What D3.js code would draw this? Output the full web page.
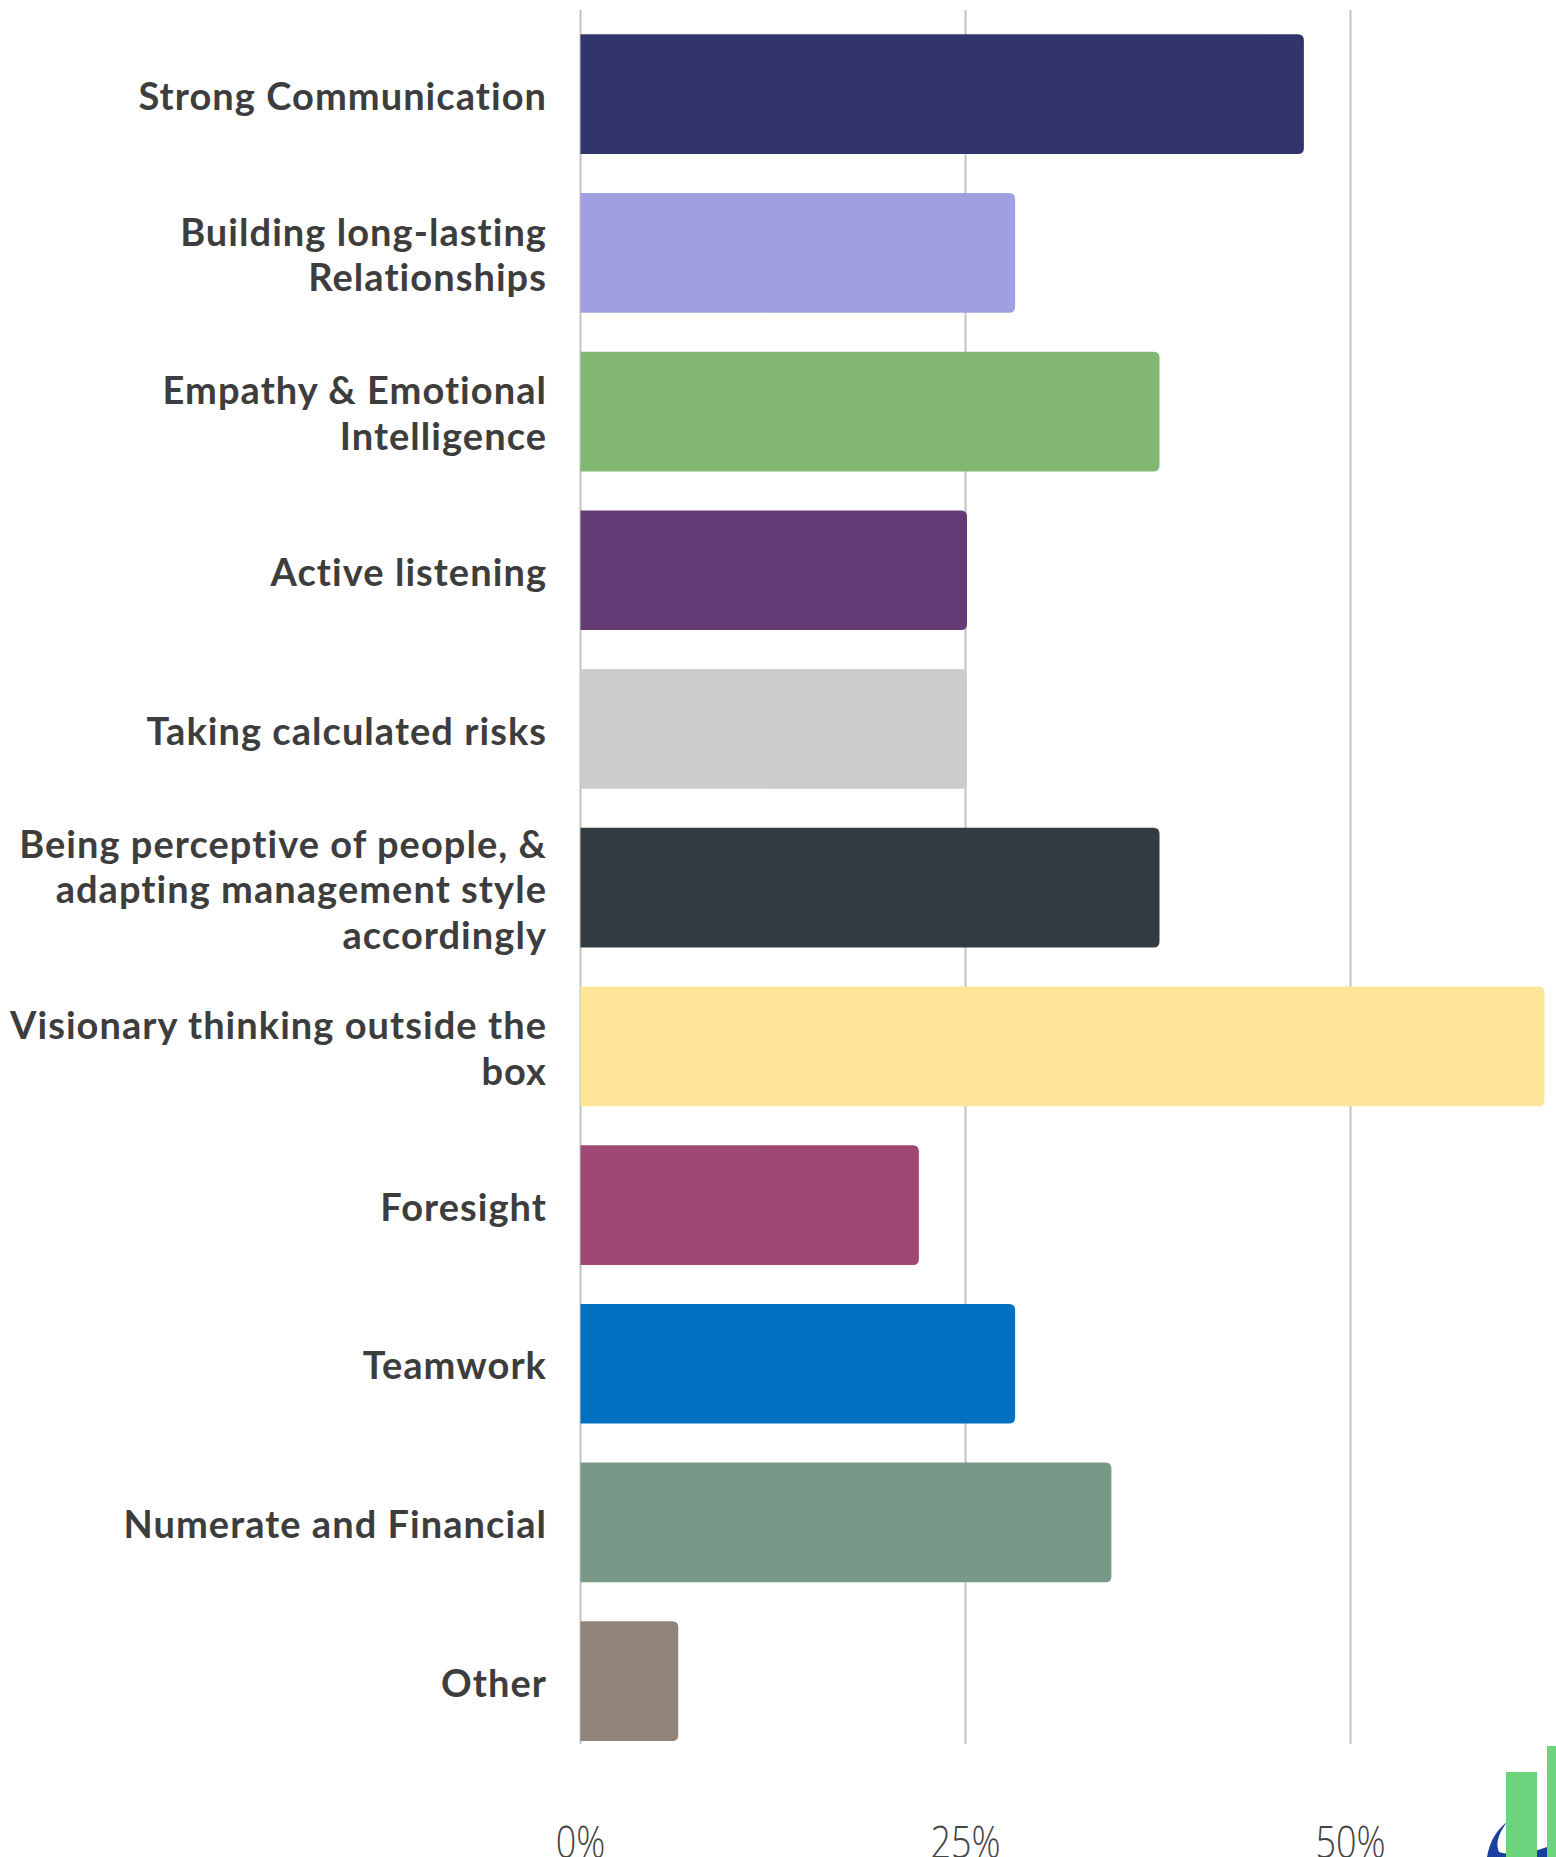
<!DOCTYPE html>
<html>
<head>
<meta charset="utf-8">
<script src="https://cdn.jsdelivr.net/npm/d3@7"></script>
<style>
  html, body { margin: 0; padding: 0; background: #fff; }
  svg { display: block; }
</style>
</head>
<body>
<svg id="chart" width="1556" height="1857"></svg>
<script>
// ---- data ----
const categories = [
  "Strong Communication",
  "Building long-lasting\nRelationships",
  "Empathy & Emotional\nIntelligence",
  "Active listening",
  "Taking calculated risks",
  "Being perceptive of people, &\nadapting management style\naccordingly",
  "Visionary thinking outside the\nbox",
  "Foresight",
  "Teamwork",
  "Numerate and Financial",
  "Other"
];
const values = [46.875, 28.125, 37.5, 25, 25, 37.5, 62.5, 21.875, 28.125, 34.375, 6.25];
const colors = ["#31356b", "#a0a0e0", "#82b771", "#653b75", "#cccccc", "#323b40",
                "#fee599", "#9e4873", "#0071c1", "#789987", "#918377"];
const ticks = [0, 25, 50];
const tickLabels = ["0%", "25%", "50%"];

// ---- layout ----
const svg = d3.select("#chart");
const x = d3.scaleLinear().domain([0, 25]).range([580.5, 965.5]);
const y = d3.scaleBand().domain(d3.range(categories.length))
  .range([14.8, 14.8 + 158.7 * categories.length])
  .paddingInner(0.246).paddingOuter(0.123);

// gridlines
const gridTop = 10, gridBottom = 1744;
svg.append("g").selectAll("line").data(ticks).join("line")
  .attr("x1", d => x(d)).attr("x2", d => x(d))
  .attr("y1", gridTop).attr("y2", gridBottom)
  .attr("stroke", "#c3c3c3").attr("stroke-width", 2);

// bars: square left, rounded right
const r = 6;
function barPath(x0, x1, y0, h) {
  const rr = Math.min(r, (x1 - x0) / 2);
  return `M${x0},${y0}H${x1 - rr}Q${x1},${y0} ${x1},${y0 + rr}V${y0 + h - rr}Q${x1},${y0 + h} ${x1 - rr},${y0 + h}H${x0}Z`;
}
svg.append("g").selectAll("path").data(values).join("path")
  .attr("d", (d, i) => barPath(x(0), x(d) + 1.5, y(i), y.bandwidth()))
  .attr("fill", (d, i) => colors[i]);

// category labels
const lh = 45.6;
const lbl = svg.append("g")
  .attr("font-family", "Lato, 'Noto Sans', sans-serif")
  .attr("font-weight", 700)
  .attr("font-size", 38)
  .attr("letter-spacing", 1.05)
  .attr("fill", "#3d3d3d")
  .attr("text-anchor", "end");
categories.forEach((c, i) => {
  const lines = c.split("\n");
  const cy = y(i) + y.bandwidth() / 2 + 2;
  const t = lbl.append("text").attr("y", cy - (lines.length - 1) * lh / 2);
  lines.forEach((ln, k) => {
    t.append("tspan").attr("x", 547).attr("dy", k === 0 ? "0.36em" : lh).text(ln);
  });
});

// axis tick labels (light, condensed)
const ax = svg.append("g")
  .attr("font-family", "'Open Sans', sans-serif")
  .attr("font-weight", 300)
  .attr("font-size", 45)
  .attr("fill", "#444");
ticks.forEach((t, i) => {
  ax.append("text")
    .attr("transform", `translate(${x(t)},1858) scale(0.8,1)`)
    .attr("text-anchor", "middle")
    .text(tickLabels[i]);
});

// partial logo, bottom right
const logo = svg.append("g");
logo.append("path")
  .attr("d", "M1487,1857 C1490,1840 1497,1830 1507,1822 C1499,1833 1495,1843 1499,1852 C1515,1857 1535,1853 1556,1843 L1556,1857 Z")
  .attr("fill", "#1b3f9c");
logo.append("rect").attr("x", 1506).attr("y", 1772).attr("width", 31).attr("height", 85).attr("fill", "#6dd47e");
logo.append("rect").attr("x", 1547).attr("y", 1746).attr("width", 9).attr("height", 111).attr("fill", "#6dd47e");
</script>
</body>
</html>
